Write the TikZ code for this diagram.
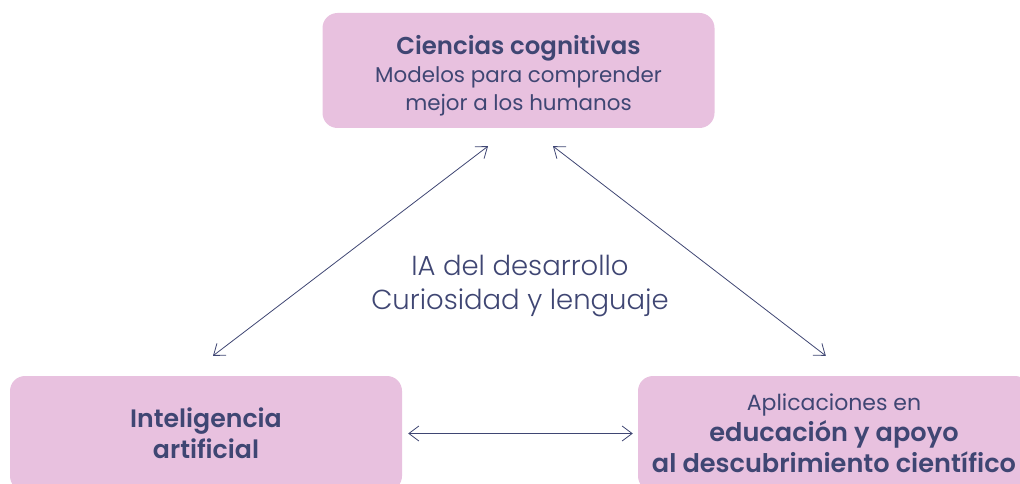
\documentclass[tikz,border=0pt]{standalone}
\usepackage{fontspec}
\setmainfont{Poppins}[BoldFont={Poppins SemiBold}]
\newfontfamily\lightfont{Poppins Light}
\usetikzlibrary{arrows.meta}
\definecolor{boxpink}{HTML}{E8C1DF}
\definecolor{inkblue}{HTML}{3F4673}
\begin{document}
\begin{tikzpicture}[x=1pt,y=-1pt,
	box/.style={fill=boxpink,rounded corners=15pt,minimum width=392pt,minimum height=115pt,
		text=inkblue,align=center,inner sep=0pt},
	link/.style={draw=inkblue,line width=0.8pt,{Straight Barb[length=10pt,width=15pt]}-{Straight Barb[length=10pt,width=15pt]}}]
		\useasboundingbox (0,0) rectangle (1020,484);
		% boxes
		\node[box,font=\fontsize{21.4}{28}\selectfont] (cog) at (518.5,70.5)
			{\rule{0pt}{29pt}{\fontsize{24.4}{28}\selectfont\bfseries Ciencias cognitivas}\\Modelos para comprender\\mejor a los humanos};
		\node[box,font=\fontsize{25.2}{31}\selectfont\bfseries] (ia) at (206,433.5)
			{Inteligencia\\artificial};
		\node[box,font=\fontsize{25.6}{31}\selectfont] (app) at (834,433.5)
			{{\fontsize{22}{30}\selectfont Aplicaciones en}\\\textbf{educación y apoyo}\\\textbf{al descubrimiento científico}};
		% centre text
		\node[text=inkblue,align=center,font=\fontsize{27.5}{34}\selectfont\lightfont] (dev) at (520,286)
			{IA del desarrollo\\Curiosidad y lenguaje};
		% arrows
		\draw[link] ([xshift=-30.5pt,yshift=-18pt]cog.south) -- ([xshift=7pt,yshift=20pt]ia.north);
		\draw[link] ([xshift=34.5pt,yshift=-18pt]cog.south) -- ([xshift=188pt,yshift=20pt]app.north west);
		\draw[link,shorten <=6pt,shorten >=5pt] (ia.east) -- (app.west);
\end{tikzpicture}
\end{document}
